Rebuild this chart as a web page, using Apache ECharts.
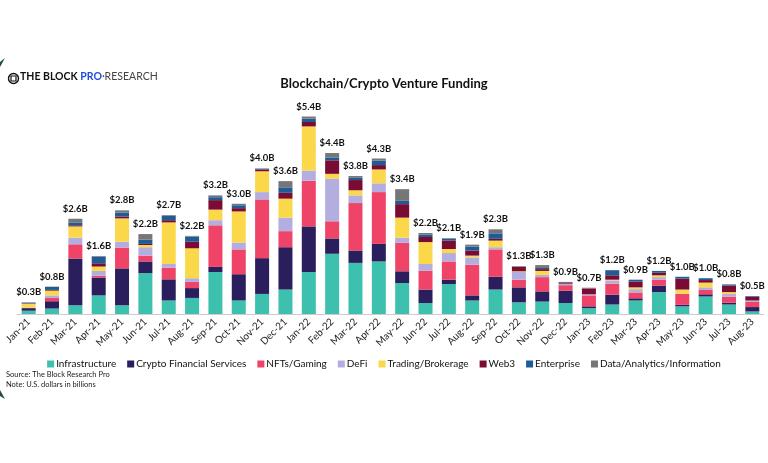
<!DOCTYPE html>
<html>
<head>
<meta charset="utf-8">
<script src="https://cdn.jsdelivr.net/npm/echarts@6/dist/echarts.min.js"></script>
<style>html,body{margin:0;padding:0;background:#fff;}#c{width:768px;height:463px;}</style>
</head>
<body>
<div id="c"></div>
<script>
const months = ['Jan-21','Feb-21','Mar-21','Apr-21','May-21','Jun-21','Jul-21','Aug-21','Sep-21','Oct-21','Nov-21','Dec-21','Jan-22','Feb-22','Mar-22','Apr-22','May-22','Jun-22','Jul-22','Aug-22','Sep-22','Oct-22','Nov-22','Dec-22','Jan-23','Feb-23','Mar-23','Apr-23','May-23','Jun-23','Jul-23','Aug-23'];
const totalLabels = ['$0.3B','$0.8B','$2.6B','$1.6B','$2.8B','$2.2B','$2.7B','$2.2B','$3.2B','$3.0B','$4.0B','$3.6B','$5.4B','$4.4B','$3.8B','$4.3B','$3.4B','$2.2B','$2.1B','$1.9B','$2.3B','$1.3B','$1.3B','$0.9B','$0.7B','$1.2B','$0.9B','$1.2B','$1.0B','$1.0B','$0.8B','$0.5B'];
const infrastructure = [0.09,0.15,0.24,0.51,0.24,1.12,0.37,0.44,1.15,0.37,0.55,0.67,1.15,1.65,1.40,1.44,0.85,0.30,0.82,0.37,0.67,0.32,0.34,0.30,0.16,0.26,0.37,0.60,0.21,0.48,0.26,0.07];
const cryptoFinancial = [0.07,0.20,1.28,0.49,1.01,0.32,0.58,0.27,0.14,0.72,0.98,1.16,1.25,0.42,0.34,0.48,0.32,0.37,0.12,0.14,0.35,0.41,0.28,0.34,0.05,0.27,0.06,0.18,0.04,0.06,0.05,0.12];
const nftsGaming = [0.01,0.09,0.39,0.05,0.57,0.16,0.32,0.17,1.14,0.68,1.61,0.44,1.25,0.47,1.30,1.42,0.78,0.52,0.50,0.84,0.75,0.21,0.39,0.15,0.30,0.30,0.16,0.16,0.30,0.12,0.16,0.14];
const defi = [0.01,0.07,0.18,0.13,0.16,0.23,0.10,0.10,0.14,0.19,0.20,0.37,0.28,1.17,0.21,0.24,0.14,0.18,0.23,0.20,0.06,0.21,0.06,0.04,0.03,0.09,0.09,0.07,0.01,0.07,0.08,0.04];
const trading = [0.10,0.13,0.31,0.12,0.64,0.06,1.14,0.82,0.29,0.85,0.57,0.52,1.21,0.13,0.14,0.38,0.55,0.60,0.11,0.05,0.18,0.02,0.11,0.00,0.00,0.02,0.05,0.05,0.11,0.13,0.05,0.00];
const web3 = [0.01,0.02,0.03,0.09,0.05,0.03,0.06,0.18,0.26,0.09,0.05,0.16,0.12,0.37,0.28,0.12,0.37,0.14,0.23,0.14,0.05,0.12,0.05,0.02,0.16,0.12,0.16,0.07,0.30,0.07,0.18,0.10];
const enterprise = [0.02,0.08,0.08,0.18,0.11,0.12,0.12,0.14,0.08,0.08,0.02,0.15,0.09,0.08,0.06,0.12,0.09,0.06,0.05,0.11,0.15,0.00,0.03,0.00,0.00,0.14,0.05,0.05,0.05,0.05,0.03,0.02];
const dataAnalytics = [0.01,0.01,0.10,0.02,0.06,0.15,0.02,0.02,0.05,0.04,0.01,0.17,0.06,0.12,0.05,0.06,0.32,0.05,0.02,0.05,0.11,0.02,0.08,0.03,0.02,0.00,0.00,0.00,0.00,0.00,0.00,0.00];

const seriesDefs = [
  ['Infrastructure', infrastructure, '#3EC0AE'],
  ['Crypto Financial Services', cryptoFinancial, '#2A1E5C'],
  ['NFTs/Gaming', nftsGaming, '#EF4468'],
  ['DeFi', defi, '#B4AEE0'],
  ['Trading/Brokerage', trading, '#FBD84A'],
  ['Web3', web3, '#7A0B33'],
  ['Enterprise', enterprise, '#1F5B94'],
  ['Data/Analytics/Information', dataAnalytics, '#767676']
];
const totals = months.map((m,i)=>seriesDefs.reduce((s,d)=>s+d[1][i],0));

const chart = echarts.init(document.getElementById('c'), null, {renderer:'canvas'});
const series = seriesDefs.map(([name,data,color])=>({
  name, type:'bar', stack:'total', data, barWidth:'60%',
  itemStyle:{color}, emphasis:{disabled:true}
}));
series.push({
  name:'labels', type:'bar', stack:'total', data: totals.map(()=>0), barWidth:'60%',
  itemStyle:{color:'transparent'}, silent:true,
  label:{show:true, position:'top', distance:5, formatter:(p)=>totalLabels[p.dataIndex],
    fontFamily:'Lato', fontWeight:'bold', fontSize:9.5, color:'#111'}
});

chart.setOption({
  animation:false,
  backgroundColor:'#fff',
  title:{text:'Blockchain/Crypto Venture Funding', left:'center', top:72,
    textStyle:{fontFamily:'Lato', fontWeight:'bold', fontSize:13, color:'#111'}},
  legend:{
    data: seriesDefs.map(d=>d[0]), top:354, left:'center', width:760, itemWidth:7, itemHeight:7, itemGap:11,
    icon:'rect', textStyle:{fontFamily:'Lato', fontSize:10, color:'#111', padding:[0,0,0,-3]}
  },
  grid:{left:17, right:4, top:95, bottom:149},
  xAxis:{type:'category', data:months,
    axisLine:{lineStyle:{color:'#ccc'}}, axisTick:{show:false},
    axisLabel:{rotate:45, interval:0, fontFamily:'Lato', fontSize:10, color:'#222', margin:6}},
  yAxis:{type:'value', min:0, max:6, show:false, splitLine:{show:false}},
  series,
  graphic:[
    {type:'group', left:6, top:71, children:[
      {type:'circle', shape:{cx:6, cy:6, r:5}, style:{fill:'none', stroke:'#111', lineWidth:1.4}},
      {type:'rect', shape:{x:3.5, y:3.5, width:5, height:5}, style:{fill:'none', stroke:'#111', lineWidth:1.2}}
    ]},
    {type:'text', left:20, top:71, style:{
      text:'{a|THE BLOCK }{b|PRO}{c|·RESEARCH}',
      rich:{
        a:{font:'bold 10.5px Lato', fill:'#111'},
        b:{font:'bold 10.5px Lato', fill:'#1E4FD6'},
        c:{font:'10.5px Lato', fill:'#444'}
      }}},
    {type:'text', left:6, top:371, style:{text:'Source: The Block Research Pro', font:'7.5px Lato', fill:'#222'}},
    {type:'text', left:6, top:381, style:{text:'Note: U.S. dollars in billions', font:'7.5px Lato', fill:'#222'}},
    {type:'polygon', shape:{points:[[0,62],[5,58],[0,67]]}, style:{fill:'#1F4A45'}},
    {type:'polygon', shape:{points:[[0,390],[5,399],[0,396]]}, style:{fill:'#1F4A45'}}
  ]
});
</script>
</body>
</html>
